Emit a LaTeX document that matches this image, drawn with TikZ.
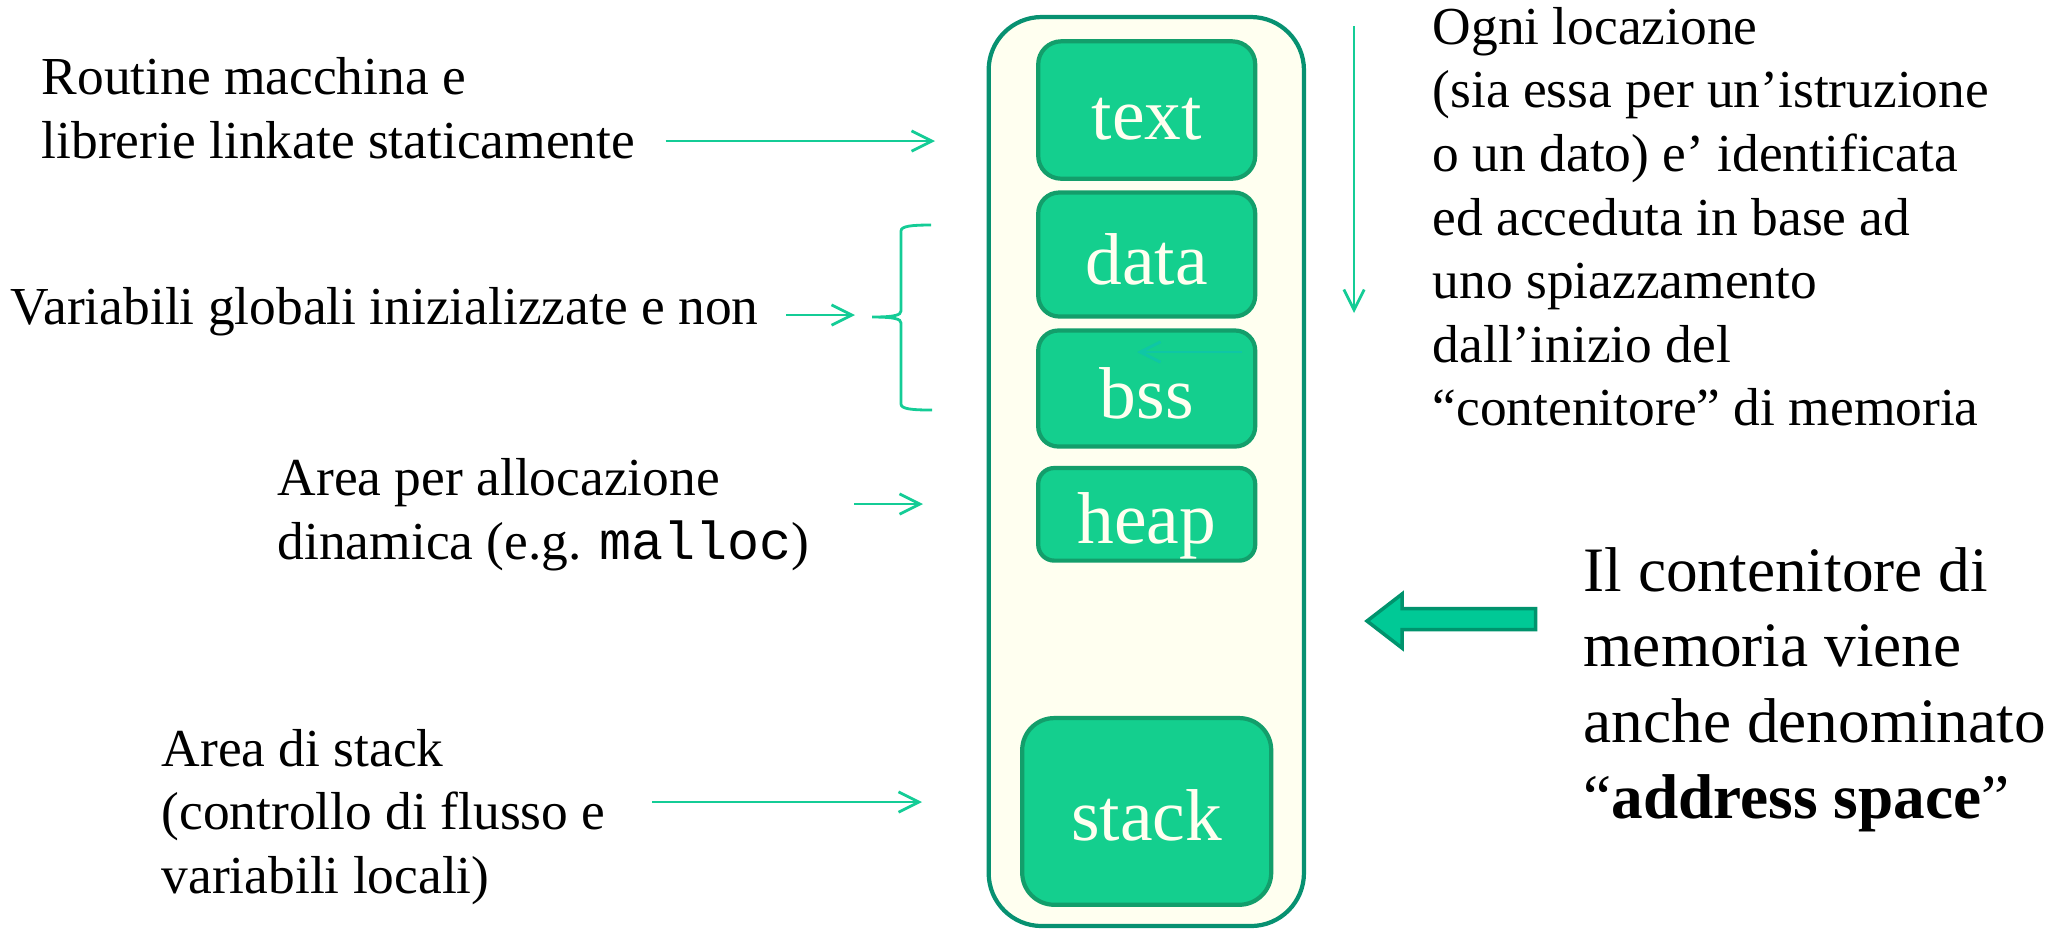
\documentclass[tikz,border=0pt]{standalone}
\usepackage{fontspec}
\setmainfont{Liberation Serif}
\setmonofont{Liberation Mono}
\usetikzlibrary{arrows.meta, positioning}
\definecolor{segfill}{HTML}{14CF8E}
\definecolor{segline}{HTML}{139E6B}
\definecolor{ivory}{HTML}{FFFFF0}
\definecolor{spaceline}{HTML}{079171}
\definecolor{linkcol}{HTML}{14CC96}
\definecolor{faintlink}{HTML}{0FC6A6}
\definecolor{bigfill}{HTML}{00C996}
\definecolor{bigline}{HTML}{00936D}

\begin{document}
\begin{tikzpicture}[x=1cm, y=-1cm,
    seg/.style={draw=segline, line width=1.2pt, fill=segfill, text=ivory,
        font=\fontsize{20.9}{25}\selectfont, text height=16.8pt, text depth=0pt,
        inner sep=0pt, minimum width=2.17cm},
    note/.style={anchor=base west, align=left, inner sep=0pt,
        font=\fontsize{15.2}{18.07}\selectfont},
    link/.style={draw=linkcol, line width=0.8pt,
        -{Straight Barb[length=5.8pt, width=5.8pt]}}
]
    \useasboundingbox (0,0) rectangle (20.59,9.31);
    % address space
    \node[draw=spaceline, line width=1.2pt, fill=ivory, rounded corners=0.53cm,
        minimum width=3.153cm, minimum height=9.09cm, inner sep=0pt] (space) at (11.463,4.715) {};
    \foreach \seg/\yc/\hh/\rr in {text/1.10/1.374/0.23, data/2.545/1.24/0.21,
        bss/3.885/1.16/0.20, heap/5.143/0.926/0.16}
    {
        \node[seg, minimum height=\hh cm, rounded corners=\rr cm] (\seg) at (11.467,\yc) {\seg};
    }
    \node[seg, minimum width=2.49cm, minimum height=1.867cm, rounded corners=0.32cm] (stack) at (11.467,8.114) {stack};
    \coordinate (bssfrom) at (12.42,3.52);
    \coordinate (bssto) at (11.37,3.52);
    \draw[link, draw=faintlink] (bssfrom) -- (bssto);
    % Left
    \node[note] (routine) at (0.41,1.583) {Routine macchina e\\librerie linkate staticamente};
    \node[note] (globals) at (0.10,3.24) {Variabili globali inizializzate e non};
    \node[note] (dynamic) at (2.77,5.59) {Area per allocazione\\dinamica (e.g. \texttt{malloc})};
    \node[note] (stackarea) at (1.61,8.933) {Area di stack\\(controllo di flusso e\\variabili locali)};
    \coordinate (textin) at (9.35,1.41);
    \coordinate (bracetip) at (8.55,3.15);
    \coordinate (heapin) at (9.23,5.04);
    \coordinate (stackin) at (9.22,8.02);
    \draw[link] ([xshift=3mm]routine.east |- textin) -- (textin);
    \draw[link] ([xshift=2.7mm]globals.east |- bracetip) -- (bracetip);
    \draw[link] ([xshift=4.4mm]dynamic.east |- heapin) -- (heapin);
    \draw[link] ([xshift=4.6mm]stackarea.east |- stackin) -- (stackin);
    \draw[linkcol, line width=0.8pt] (9.31,2.25) .. controls (9.12,2.25) and (9.01,2.26) .. (9.01,2.31)
        -- (9.01,3.11) .. controls (9.01,3.15) and (8.95,3.17) .. (8.72,3.17)
        .. controls (8.95,3.17) and (9.01,3.19) .. (9.01,3.23)
        -- (9.01,4.04) .. controls (9.01,4.09) and (9.12,4.10) .. (9.32,4.10);
    % Right
    \coordinate (top0) at (13.54,0.26);
    \coordinate (top1) at (13.54,3.13);
    \draw[link] (top0) -- (top1);
    \node[note] (offset) at (14.32,4.255) {Ogni locazione\\(sia essa per un’istruzione\\o un dato) e’ identificata\\ed acceduta in base ad\\uno spiazzamento\\dall’inizio del\\“contenitore” di memoria};
    \node[note, font=\fontsize{18}{21.5}\selectfont] (aspace) at (15.83,8.18) {Il contenitore di\\memoria viene\\anche denominato\\“\textbf{address space}”};
    \draw[bigline, fill=bigfill, line width=1pt] (13.67,6.21) -- (14.02,5.94) -- (14.02,6.085)
        -- (15.355,6.085) -- (15.355,6.295) -- (14.02,6.295) -- (14.02,6.48) -- cycle;
\end{tikzpicture}
\end{document}
